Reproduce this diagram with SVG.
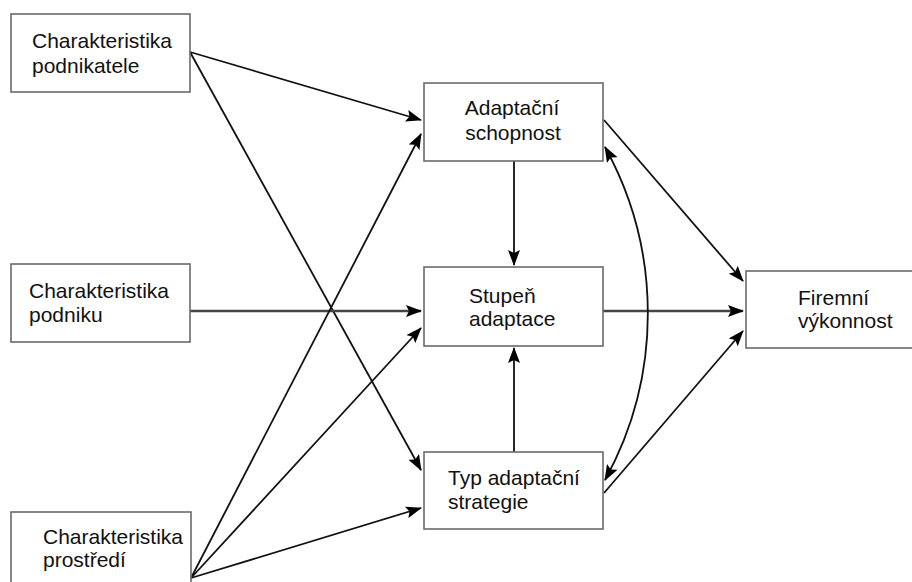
<svg xmlns="http://www.w3.org/2000/svg" width="912" height="582" viewBox="0 0 912 582">
<style>
.box{fill:#fff;stroke:#6a6a6a;stroke-width:1.6}
.t{font-family:"Liberation Sans",Arial,sans-serif;font-size:21px;fill:#111}
.c{fill:none;stroke:#111;stroke-width:1.8}
.h{fill:none;stroke:#444;stroke-width:2.6}
</style>
<defs>
<marker id="ah" markerUnits="userSpaceOnUse" markerWidth="16" markerHeight="12" viewBox="0 0 16 12" refX="15" refY="6" orient="auto-start-reverse">
<path d="M0,0 L16,6 L0,12 L3,6 Z" fill="#000"/>
</marker>
</defs>
<rect width="912" height="582" fill="#fff"/>
<g id="connectors">
<line class="c" x1="190" y1="52" x2="421" y2="120" marker-end="url(#ah)"/>
<line class="c" x1="190" y1="52" x2="421" y2="470" marker-end="url(#ah)"/>
<line class="h" x1="190" y1="311" x2="421" y2="311" marker-end="url(#ah)"/>
<line class="c" x1="191" y1="578" x2="421" y2="134" marker-end="url(#ah)"/>
<line class="c" x1="191" y1="578" x2="421" y2="328" marker-end="url(#ah)"/>
<line class="c" x1="191" y1="578" x2="421" y2="508" marker-end="url(#ah)"/>
<line class="c" x1="514" y1="161" x2="514" y2="265" marker-end="url(#ah)"/>
<line class="c" x1="514" y1="452" x2="514" y2="348" marker-end="url(#ah)"/>
<line class="h" x1="603" y1="311" x2="743" y2="311" marker-end="url(#ah)"/>
<line class="c" x1="604" y1="120" x2="743" y2="281" marker-end="url(#ah)"/>
<line class="c" x1="604" y1="493" x2="743" y2="331" marker-end="url(#ah)"/>
<path class="c" d="M605,147 A345,345 0 0 1 605,480" marker-start="url(#ah)" marker-end="url(#ah)"/>
</g>
<g id="n-podnikatel">
<rect class="box" x="11" y="14" width="179" height="78"/>
<text class="t" x="32" y="48">Charakteristika</text>
<text class="t" x="32" y="73">podnikatele</text>
</g>
<g id="n-podnik">
<rect class="box" x="11" y="264" width="179" height="78"/>
<text class="t" x="29" y="298">Charakteristika</text>
<text class="t" x="29" y="322">podniku</text>
</g>
<g id="n-prostredi">
<rect class="box" x="11" y="512" width="180" height="90"/>
<text class="t" x="43" y="544">Charakteristika</text>
<text class="t" x="43" y="567">prostředí</text>
</g>
<g id="n-schopnost">
<rect class="box" x="424" y="83" width="179" height="78"/>
<text class="t" x="512" y="115" text-anchor="middle">Adaptační</text>
<text class="t" x="513" y="140" text-anchor="middle">schopnost</text>
</g>
<g id="n-stupen">
<rect class="box" x="424" y="267" width="179" height="79"/>
<text class="t" x="469" y="303">Stupeň</text>
<text class="t" x="469" y="326">adaptace</text>
</g>
<g id="n-typ">
<rect class="box" x="424" y="452" width="179" height="77"/>
<text class="t" x="448" y="485">Typ adaptační</text>
<text class="t" x="448" y="509">strategie</text>
</g>
<g id="n-vykonnost">
<rect class="box" x="746" y="271" width="170" height="77"/>
<text class="t" x="798" y="305">Firemní</text>
<text class="t" x="798" y="328">výkonnost</text>
</g>
</svg>
